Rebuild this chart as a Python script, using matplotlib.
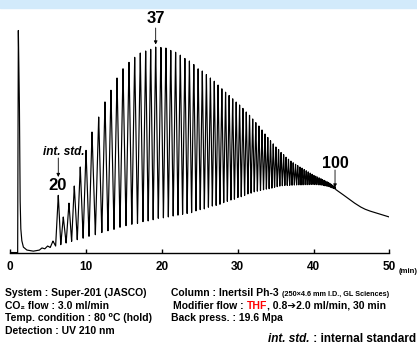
import numpy as np
import matplotlib.pyplot as plt
from matplotlib.patches import Rectangle

plt.rcParams['font.family'] = ['Liberation Sans', 'DejaVu Sans']
plt.rcParams['font.weight'] = 'bold'

# baseline / solvent peak / unresolved hump (time in min, signal in a.u.)
base_t = [0.0, 0.9, 0.97, 1.06, 1.19, 1.28, 1.37, 1.50, 1.71, 2.16, 3.0, 4.0, 5.0,
          6.0, 7.0, 8.0, 9.0, 12.0, 15.0, 19.0, 24.0, 28.0, 32.0, 36.0, 40.0, 41.0,
          42.0, 42.84, 43.6, 44.4, 45.3, 46.1, 46.7, 47.3, 47.9, 48.5, 49.2, 50.0]
base_v = [-1.0, -1.0, -3.5, 221.0, 158.5, 58.5, 24.5, 11.5, 4.5, 1.5, 0.3, 1.5, 3.5,
          5.5, 7.5, 10.0, 12.0, 18.5, 25.0, 32.0, 39.0, 48.0, 59.0, 66.0, 67.0, 66.5,
          65.0, 62.5, 58.5, 54.0, 49.0, 45.0, 42.6, 40.8, 39.4, 38.0, 36.4, 34.5]

# oligomer peaks n = 17 ... 100
degree = list(range(17, 101))
peak_t = [4.18, 4.91, 5.63, 6.33, 6.99, 7.74, 8.44, 9.23, 9.99, 10.78, 11.66, 12.49,
          13.28, 14.08, 14.87, 15.66, 16.41, 17.15, 17.86, 18.52, 19.18, 19.87, 20.53,
          21.17, 21.81, 22.43, 23.03, 23.63, 24.21, 24.78, 25.33, 25.87, 26.40, 26.91,
          27.41, 27.91, 28.40, 28.87, 29.34, 29.80, 30.25, 30.69, 31.13, 31.56, 31.98,
          32.39, 32.80, 33.21, 33.60, 33.97, 34.33, 34.69, 35.04, 35.39, 35.72, 36.06,
          36.38, 36.70, 37.02, 37.32, 37.63, 37.92, 38.21, 38.49, 38.77, 39.04, 39.30,
          39.56, 39.81, 40.06, 40.30, 40.53, 40.76, 40.98, 41.19, 41.40, 41.60, 41.80,
          41.99, 42.17, 42.35, 42.52, 42.68, 42.84]
peak_h = [1.7, 2.2, 5.7, 50.0, 27.0, 39.0, 54.6, 72.0, 87.0, 103.6, 116.7, 130.0,
          140.0, 150.5, 158.0, 163.0, 166.7, 169.7, 170.5, 171.0, 172.2, 170.8, 169.3,
          166.0, 163.3, 159.5, 155.4, 152.0, 147.5, 141.9, 138.5, 133.8, 129.1, 124.7,
          119.8, 114.9, 110.2, 105.6, 101.0, 96.5, 92.3, 87.7, 82.9, 78.4, 73.6,
          69.2, 65.1, 60.4, 55.7, 51.6, 47.7, 43.9, 40.2, 37.1, 33.5, 30.8,
          28.2, 26.1, 24.1, 22.4, 20.8, 19.4, 17.9, 16.7, 15.3, 14.0, 12.8,
          11.5, 10.3, 9.1, 8.4, 7.7, 7.0, 6.3, 5.6, 5.2, 4.8, 4.4,
          4.0, 3.6, 3.2, 2.8, 2.4, 2.0]

xticks = [0, 10, 20, 30, 40, 50]

fig = plt.figure(figsize=(4.17, 3.45), dpi=100)
W, H = 417, 345
fig.patches.append(Rectangle((0, 1 - 8 / H), 1, 8 / H, transform=fig.transFigure,
                             color='#d2eafb', zorder=0))

ax = fig.add_axes([10.3 / W, 92 / H, 379 / W, 243 / H])

# zigzag peak train: valleys half way between neighbouring peaks
pt = np.array(peak_t)
ph = np.array(peak_h)
mids = (pt[1:] + pt[:-1]) / 2
zz_t = [pt[0] - (pt[1] - pt[0]) / 2]
zz_v = [0.0]
for i in range(len(pt)):
    zz_t.append(pt[i]); zz_v.append(ph[i])
    if i < len(mids):
        zz_t.append(mids[i]); zz_v.append(0.0)
zz_t.append(pt[-1] + (pt[-1] - pt[-2]) / 2); zz_v.append(0.0)

t = np.linspace(0, 50, 25001)
sig = np.interp(t, base_t, base_v) + np.interp(t, zz_t, zz_v, left=0, right=0)
ax.plot(t, sig, color='black', lw=0.85)

ax.set_xlim(0, 50)
ax.set_ylim(-1.5, 241.5)
for s in ['left', 'right', 'top']:
    ax.spines[s].set_visible(False)
ax.spines['bottom'].set_linewidth(1.0)
ax.set_yticks([])
ax.set_xticks(xticks)
ax.tick_params(axis='x', direction='in', length=3, width=1, pad=6, labelsize=8.5)
for lb in ax.get_xticklabels():
    lb.set_fontweight('bold')

arr = dict(arrowstyle='-|>', lw=0.6, color='black', mutation_scale=5, shrinkA=0, shrinkB=0)

# 37
i37 = degree.index(37)
ax.text(19.22, 232.5, '37', fontsize=12, fontweight='bold', ha='center', va='center')
ax.annotate('', xy=(peak_t[i37], 207.0), xytext=(peak_t[i37], 223.5), arrowprops=arr)
# int. std. / 20
i20 = degree.index(20)
ax.text(7.08, 99.5, 'int. std.', fontsize=8.5, fontweight='bold', style='italic',
        ha='center', va='center')
ax.annotate('', xy=(peak_t[i20], 74.5), xytext=(peak_t[i20], 93.5), arrowprops=arr)
ax.text(6.23, 65.5, '20', fontsize=12, fontweight='bold', ha='center', va='center')
# 100
i100 = degree.index(100)
ax.text(42.9, 88.5, '100', fontsize=11.5, fontweight='bold', ha='center', va='center')
ax.annotate('', xy=(peak_t[i100], 64.0), xytext=(peak_t[i100], 81.5), arrowprops=arr)

fig.text(399 / W, 1 - 273 / H, '(min)', fontsize=5.5, fontweight='bold', va='baseline')

fs = 7.5
lines_left = ['System : Super-201 (JASCO)', 'CO\u2082 flow : 3.0 ml/min',
              'Temp. condition : 80 \u2070C (hold)', 'Detection : UV 210 nm']
for k, s in enumerate(lines_left):
    fig.text(5 / W, 1 - (296 + 12.7 * k) / H, s, fontsize=fs, fontweight='bold', va='baseline')

renderer = fig.canvas.get_renderer()


def put_parts(x, y, parts):
    for s, kw in parts:
        tx = fig.text(x, y, s, va='baseline', fontweight='bold', **kw)
        bb = tx.get_window_extent(renderer)
        x = bb.x1 / (W)


put_parts(171 / W, 1 - 296 / H, [('Column : Inertsil Ph-3 ', dict(fontsize=fs)),
                                  ('(250\u00d74.6 mm I.D., GL Sciences)', dict(fontsize=5.2))])
put_parts(173 / W, 1 - 308.7 / H, [('Modifier flow : ', dict(fontsize=fs)),
                                    ('THF', dict(fontsize=fs, color='red')),
                                    (', 0.8\u27942.0 ml/min, 30 min', dict(fontsize=fs))])
put_parts(171 / W, 1 - 321.4 / H, [('Back press. : 19.6 Mpa', dict(fontsize=fs))])
put_parts(268 / W, 1 - 342 / H, [('int. std.', dict(fontsize=8.5, style='italic')),
                                  (' : internal standard', dict(fontsize=8.5))])

fig.savefig('out.png', dpi=100)
